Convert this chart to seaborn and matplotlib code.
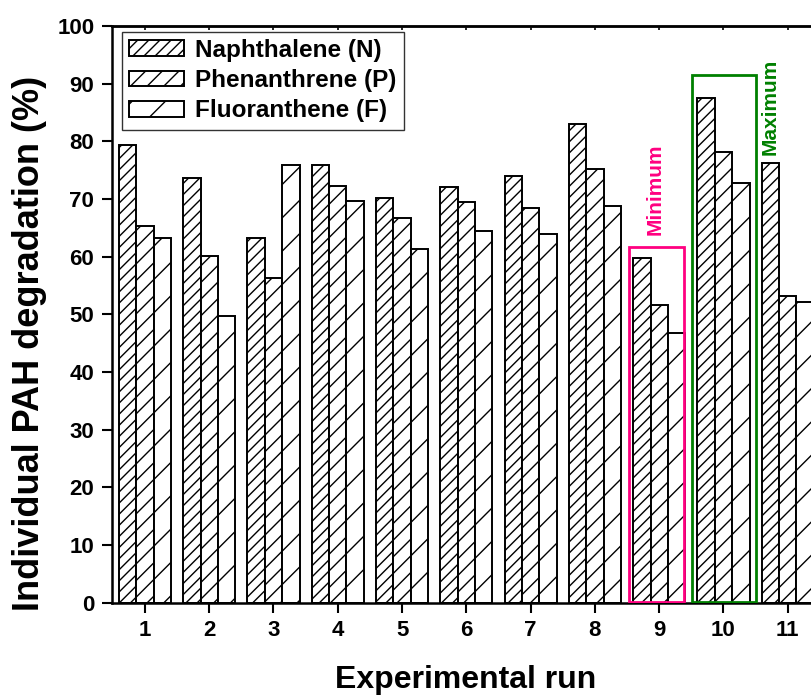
import matplotlib
matplotlib.use("Agg")
import matplotlib.pyplot as plt
from matplotlib.patches import Rectangle
import seaborn as sns
import pandas as pd

# Degradation of each PAH (%) per experimental run
runs = ["1", "2", "3", "4", "5", "6", "7", "8", "9", "10", "11"]
naphthalene = [79.3, 73.7, 63.2, 75.8, 70.1, 72.1, 74.0, 83.0, 59.7, 87.5, 76.3]
phenanthrene = [65.3, 60.1, 56.3, 72.2, 66.7, 69.4, 68.5, 75.1, 51.7, 78.2, 53.2]
fluoranthene = [63.2, 49.7, 75.8, 69.7, 61.3, 64.5, 63.9, 68.7, 46.7, 72.7, 52.1]
compounds = ["Naphthalene (N)", "Phenanthrene (P)", "Fluoranthene (F)"]
hatches = ["///", "//", "/"]

df = pd.DataFrame({
    "run": runs * 3,
    "compound": [c for c in compounds for _ in runs],
    "degradation": naphthalene + phenanthrene + fluoranthene,
})

sns.set_theme(style="ticks")
plt.rcParams["font.family"] = ["Liberation Sans", "DejaVu Sans"]
plt.rcParams["font.weight"] = "bold"
plt.rcParams["text.color"] = "black"
plt.rcParams["axes.labelcolor"] = "black"
plt.rcParams["xtick.color"] = "black"
plt.rcParams["ytick.color"] = "black"
plt.rcParams["hatch.linewidth"] = 1.0

fig = plt.figure(figsize=(8.11, 6.97), dpi=100)
ax = fig.add_axes([0.138, 0.135, 0.874, 0.828])

sns.barplot(data=df, x="run", y="degradation", hue="compound",
            order=runs, hue_order=compounds, width=0.81,
            palette=["white"] * 3, edgecolor="black", linewidth=1.4,
            legend=False, ax=ax)

for container, hatch in zip(ax.containers, hatches):
    for bar in container:
        bar.set_hatch(hatch)
        bar.set_facecolor("white")
        bar.set_edgecolor("black")

ax.set_xlim(-0.513, 10.513)
ax.set_ylim(0, 100)
ax.set_yticks(range(0, 101, 10))

for side in ["left", "bottom", "top"]:
    ax.spines[side].set_linewidth(1.8)
    ax.spines[side].set_color("black")
ax.spines["right"].set_visible(False)

ax.tick_params(axis="both", which="major", direction="out", length=7.2,
               width=1.5, color="black", labelsize=16, labelcolor="black")
ax.tick_params(axis="y", pad=5.5)
ax.tick_params(axis="x", pad=5)
for lab in ax.get_xticklabels() + ax.get_yticklabels():
    lab.set_fontweight("bold")

top = ax.secondary_xaxis("top")
top.set_xticks(range(len(runs)))
top.set_xticklabels([])
top.tick_params(direction="in", length=3, width=1.2, color="black")
top.spines["top"].set_linewidth(1.8)

ax.set_xlabel("Experimental run", fontsize=23, fontweight="bold", color="black")
ax.set_ylabel("Individual PAH degradation (%)", fontsize=26, fontweight="bold",
              color="black")
ax.xaxis.set_label_coords(0.499, -0.108)
ax.yaxis.set_label_coords(-0.091, 0.45)

leg = ax.legend(handles=list(ax.containers), labels=compounds,
                loc="upper left", bbox_to_anchor=(0.014, 0.99),
                borderaxespad=0, fancybox=False, framealpha=1,
                edgecolor="#333333",
                prop={"weight": "bold", "size": 17.5},
                handlelength=2.26, handleheight=0.62, handletextpad=0.45,
                labelspacing=0.3, borderpad=0.3)
leg.get_frame().set_linewidth(1.0)
for txt in leg.get_texts():
    txt.set_color("black")

# Highlight the lowest and highest runs
ax.add_patch(Rectangle((7.53, 0.2), 0.855, 61.4, fill=False,
                       edgecolor="#FF0080", linewidth=2.0, zorder=5))
ax.add_patch(Rectangle((8.518, 0.2), 0.984, 91.3, fill=False,
                       edgecolor="#008000", linewidth=2.0, zorder=5))
ax.text(7.93, 71.6, "Minimum", rotation=90, ha="center", va="center",
        color="#FF0080", fontsize=15, fontweight="bold")
ax.text(9.72, 86.0, "Maximum", rotation=90, ha="center", va="center",
        color="#008000", fontsize=15, fontweight="bold")

fig.savefig("out.png", dpi=100)
